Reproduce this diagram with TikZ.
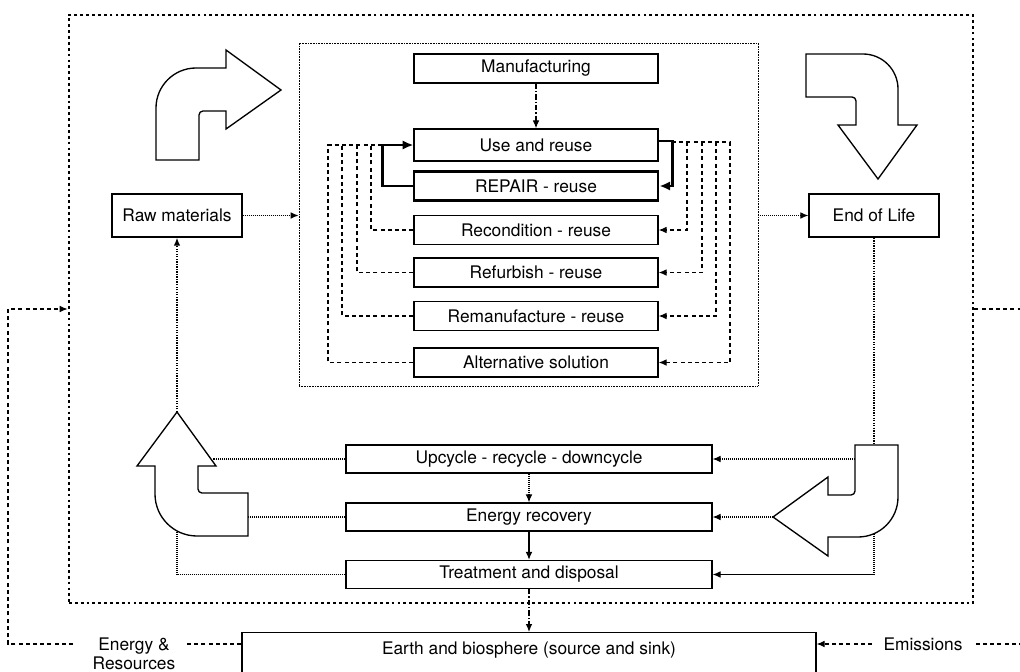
\documentclass[tikz,border=0pt]{standalone}
\usepackage{fontspec}
\setmainfont{TeX Gyre Heros}
\usetikzlibrary{arrows.meta}

\begin{document}
\begin{tikzpicture}[x=0.75pt,y=-0.75pt,
  every node/.style={font=\fontsize{13pt}{14.25pt}\selectfont, inner sep=0pt},
  box/.style={draw, line width=0.95pt, fill=white, minimum width=183pt, minimum height=21.75pt},
  sidebox/.style={box, minimum width=97.5pt, minimum height=32.25pt},
  lowbox/.style={box, minimum width=274.5pt, minimum height=21pt},
  border/.style={draw, line width=2.1pt, dash pattern=on 2.1pt off 2.3pt},
  innerframe/.style={draw, line width=0.6pt, dash pattern=on 0.6pt off 0.6pt},
  flowdot/.style={line width=0.8pt, dash pattern=on 0.8pt off 0.7pt},
  thickdot/.style={line width=1.2pt, dash pattern=on 1pt off 0.9pt},
  loopline/.style={line width=0.9pt, dash pattern=on 3pt off 2.4pt},
  envline/.style={line width=0.8pt, dash pattern=on 3pt off 2.4pt},
  dashdotline/.style={line width=0.9pt, dash pattern=on 4pt off 1.5pt on 1pt off 1.5pt},
  repairline/.style={line width=2.2pt},
  tip/.style={-{Latex[length=6pt,width=5pt]}},
  bigtip/.style={-{Latex[length=8pt,width=7pt]}},
  blockarrow/.style={draw, line width=1pt, fill=white, line join=miter}]
\useasboundingbox (0,0) rectangle (1020,671);
\clip (0,0) rectangle (1020,671);

% frames
\node[border, minimum width=678pt, minimum height=441pt] (system) at (521,309) {};
\node[innerframe, minimum width=344.25pt, minimum height=257.25pt] (inner) at (528.5,214.5) {};

% reuse chain
\node[box] (manuf) at (536,68.5) {Manufacturing};
\node[box, minimum height=24pt] (use) at (536,145) {Use and reuse};
\node[box, line width=2.2pt] (repair) at (536,186) {REPAIR - reuse};
\node[box] (recon) at (536,230) {Recondition - reuse};
\node[box] (refurb) at (536,272.5) {Refurbish - reuse};
\node[box] (reman) at (536,316) {Remanufacture - reuse};
\node[box] (alt) at (536,362.5) {Alternative solution};

% life-cycle ends
\node[sidebox] (raw) at (177,215.5) {Raw materials};
\node[sidebox] (eol) at (874,215.5) {End of Life};

% recovery chain
\node[lowbox] (upcycle) at (529,459) {Upcycle - recycle - downcycle};
\node[lowbox] (energy) at (529,517) {Energy recovery};
\node[lowbox] (treat) at (529,574.5) {Treatment and disposal};

% environment
\node[draw, line width=0.95pt, anchor=north, minimum width=430.5pt, inner ysep=0pt,
      text height=16.5pt, text depth=28.5pt] (earth) at (529,632)
      {Earth and biosphere (source and sink)};
\node[align=center] (er) at (134,653.5) {Energy \&\\Resources};
\node (em) at (923,644) {Emissions};

% attachment points on the block arrows and buses
\coordinate (brTop) at (874,445);
\coordinate (brInner) at (855,459);
\coordinate (brTip) at (773,517);
\coordinate (brBottom) at (874,534);
\coordinate (blTip) at (177,412);
\coordinate (blHead) at (213,459);
\coordinate (blSide) at (248,517);
\coordinate (blBottom) at (177,532);
\coordinate (rbus) at (672,142);
\coordinate (erL) at (73,644);
\coordinate (erR) at (185,644);
\coordinate (emL) at (872,644);
\coordinate (emR) at (976,644);

% main flow
\draw[dashdotline, tip] (manuf) -- (use);
\draw[flowdot, tip] (raw.east) -- (raw.east -| inner.west);
\draw[flowdot, tip] (inner.east |- eol.west) -- (eol.west);
\draw[thickdot] (eol.south) -- (brTop);

% repair loop
\draw[repairline, bigtip] (repair.west) -- ++(-30,0) |- (use.west);
\draw[repairline, bigtip] ([yshift=3pt]use.east) -- ++(14,0) |- (repair.east);

% longer reuse loops
\draw[loopline] (recon.west) -| (371,145);
\draw[loopline] (refurb.west) -| (357,145);
\draw[loopline] (reman.west) -| (342,145);
\draw[loopline] (alt.west) -| (328,145) -- (384,145);
\draw[loopline, tip] (rbus) -- (730,142) |- (alt.east);
\draw[loopline, tip] (716,142) |- (reman.east);
\draw[loopline, tip] (702,142) |- (refurb.east);
\draw[loopline, tip] (687,142) |- (recon.east);

% recovery flows
\draw[flowdot, tip] (brInner) -- (upcycle.east);
\draw[flowdot, tip] (brTip) -- (energy.east);
\draw[flowdot, tip] (brBottom) |- (treat.east);
\draw[flowdot] (upcycle.west) -- (blHead);
\draw[flowdot] (energy.west) -- (blSide);
\draw[flowdot] (treat.west) -| (blBottom);
\draw[thickdot, tip] (blTip) -- (raw.south);
\draw[flowdot, tip] (upcycle) -- (energy);
\draw[line width=0.9pt, tip] (energy) -- (treat);
\draw[dashdotline, tip] (treat) -- (earth);

% exchange with the environment
\draw[envline] (earth.north west |- erR) -- (erR);
\draw[envline, tip] (erL) -- (8,644) -- (8,309) -- (system.west);
\draw[envline] (system.east) -- (1040,309) -- (1040,644) -- (emR);
\draw[envline, tip] (emL) -- (earth.north east |- emL);

% block arrows
\draw[blockarrow] (156,160) -- (156,108) arc[start angle=180,end angle=270,radius=40]
  -- (226,68) -- (226,50) -- (281,90) -- (226,129) -- (226,111) -- (203,111)
  arc[start angle=270,end angle=180,radius=4] -- (199,160) -- cycle;
\draw[blockarrow] (806,54) -- (863,54) arc[start angle=270,end angle=360,radius=35]
  -- (898,125) -- (917,125) -- (878,179) -- (838,125) -- (856,125) -- (856,101)
  arc[start angle=0,end angle=-90,radius=4] -- (806,97) -- cycle;
\draw[blockarrow] (855,445) -- (898,445) -- (898,497) arc[start angle=0,end angle=90,radius=40]
  -- (828,537) -- (828,556) -- (773,517) -- (828,477) -- (828,495) -- (851,495)
  arc[start angle=90,end angle=0,radius=4] -- cycle;
\draw[blockarrow] (177,412) -- (216,466) -- (198,466) -- (198,489)
  arc[start angle=180,end angle=90,radius=4] -- (248,493) -- (248,536) -- (197,536)
  arc[start angle=90,end angle=180,radius=42] -- (155,466) -- (137,466) -- cycle;
\end{tikzpicture}
\end{document}
